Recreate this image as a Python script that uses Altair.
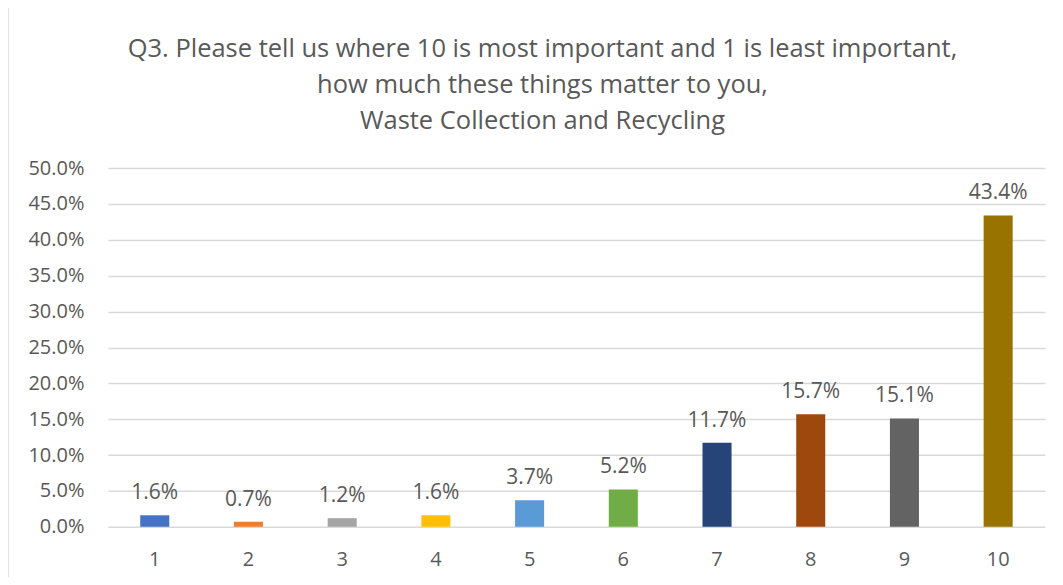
import altair as alt
import pandas as pd

categories = ["1", "2", "3", "4", "5", "6", "7", "8", "9", "10"]
values = [1.6, 0.7, 1.2, 1.6, 3.7, 5.2, 11.7, 15.7, 15.1, 43.4]
colors = ["#4472C4", "#ED7D31", "#A5A5A5", "#FFC000", "#5B9BD5",
          "#70AD47", "#264478", "#9E480E", "#636363", "#997300"]
y_ticks = [0.0, 0.05, 0.10, 0.15, 0.20, 0.25, 0.30, 0.35, 0.40, 0.45, 0.50]
title_lines = [
    "Q3. Please tell us where 10 is most important and 1 is least important,",
    "how much these things matter to you,",
    "Waste Collection and Recycling",
]

df = pd.DataFrame({
    "cat": categories,
    "val": [v / 100 for v in values],
    "label": [f"{v:.1f}%" for v in values],
    "color": colors,
})

FONT = "Open Sans"
GREY = "#595959"

x = alt.X("cat:N", sort=categories, title=None,
          scale=alt.Scale(paddingInner=0.69, paddingOuter=0.345),
          axis=alt.Axis(labelAngle=0, labelPadding=23, grid=False))
y = alt.Y("val:Q", title=None,
          scale=alt.Scale(domain=[0, 0.5], nice=False),
          axis=alt.Axis(format=".1%", values=y_ticks, tickCount=11,
                        labelPadding=24, grid=True, labelOverlap=False))

base = alt.Chart(df)
bars = base.mark_bar().encode(
    x=x, y=y,
    color=alt.Color("color:N", scale=None, legend=None),
)
labels = base.mark_text(baseline="bottom", dy=-12, fontSize=21,
                        font=FONT, color=GREY).encode(
    x=x, y=y, text="label:N")
frame = alt.Chart(pd.DataFrame({"k": [0]})).mark_rect(
    filled=False, stroke="#D9D9D9", strokeWidth=1.5).encode(
    x=alt.value(-100), x2=alt.value(1200),
    y=alt.value(-161), y2=alt.value(600))

chart = alt.layer(bars, labels, frame).properties(
    width=938, height=359,
    autosize=alt.AutoSizeParams(type="none"),
    padding={"left": 100, "top": 160, "right": 10, "bottom": 50},
    title=alt.TitleParams(text=title_lines, fontSize=25.5, font=FONT,
                          color=GREY, fontWeight="normal", anchor="middle",
                          frame="group", lineHeight=36, offset=-128, dx=-34),
).configure_view(stroke=None).configure_axis(
    labelFontSize=20, labelColor=GREY, labelFont=FONT, ticks=False,
    domain=False, labelOverlap=False, gridColor="#D9D9D9", gridWidth=1.5,
)

chart.save("out.html", embed_options={"renderer": "svg", "actions": False})
